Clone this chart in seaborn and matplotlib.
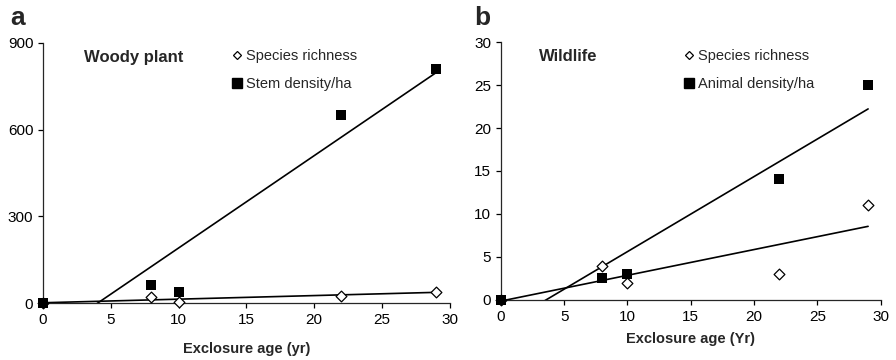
import numpy as np
import matplotlib
matplotlib.use("Agg")
import matplotlib.pyplot as plt
from matplotlib.lines import Line2D
import seaborn as sns

# --- DATA ---
age = [0, 8, 10, 22, 29]
woody_richness = [0, 22, 5, 25, 40]
woody_stems = [0, 62, 38, 650, 810]
wild_richness = [0, 4, 2, 3, 11]
wild_density = [0, 2.6, 3, 14.1, 25]

# --- STYLE ---
sns.set_style("ticks")
plt.rcParams['font.family'] = ['Liberation Sans', 'DejaVu Sans']
plt.rcParams['xtick.major.size'] = 3.5
plt.rcParams['ytick.major.size'] = 3.5
plt.rcParams['axes.linewidth'] = 0.9

fig = plt.figure(figsize=(8.96, 3.6), dpi=100)
ax1 = fig.add_axes([0.048, 0.158, 0.454, 0.723])
ax2 = fig.add_axes([0.559, 0.167, 0.424, 0.716])

line_kw = dict(color='black', lw=1.2)
dia_kw = dict(s=30, facecolor='white', edgecolor='black', linewidths=0.9,
              alpha=1, zorder=3, clip_on=False)
sq_kw = dict(s=62, color='black', linewidths=0, alpha=1, zorder=4, clip_on=False)


def panel(ax, y_rich, y_dens, ymax, ystep, title, dens_label, xlabel,
          leg_x, lpad):
    sns.regplot(x=age, y=y_rich, ax=ax, ci=None, truncate=True, marker='D',
                scatter_kws=dia_kw, line_kws=line_kw)
    sns.regplot(x=age, y=y_dens, ax=ax, ci=None, truncate=True, marker='s',
                scatter_kws=sq_kw, line_kws=line_kw)
    ax.set_xlim(0, 30)
    ax.set_ylim(0, ymax)
    ax.set_xticks(range(0, 31, 5))
    ax.set_yticks(np.arange(0, ymax + 1, ystep))
    ax.tick_params(labelsize=11, colors='black', width=0.9)
    ax.set_xlabel(xlabel, fontsize=10.5, weight='bold', labelpad=lpad)
    ax.set_ylabel('')
    sns.despine(ax=ax)
    ax.text(0.1, 0.945, title, transform=ax.transAxes, fontsize=12,
            weight='bold', va='center')
    handles = [
        Line2D([], [], marker='D', ls='', ms=4.5, mfc='white', mec='black', mew=0.9),
        Line2D([], [], marker='s', ls='', ms=7, color='black'),
    ]
    ax.legend(handles, ['Species richness', dens_label], loc='upper left',
              bbox_to_anchor=(leg_x, 1.025), frameon=False, fontsize=10.5,
              handlelength=0.6, handletextpad=0.3, labelspacing=0.95)


panel(ax1, woody_richness, woody_stems, 900, 300, 'Woody plant',
      'Stem density/ha', 'Exclosure age (yr)', 0.435, 11)
panel(ax2, wild_richness, wild_density, 30, 5, 'Wildlife',
      'Animal density/ha', 'Exclosure age (Yr)', 0.45, 6)

fig.text(0.011, 0.931, 'a', fontsize=19, weight='bold', va='baseline')
fig.text(0.529, 0.931, 'b', fontsize=19, weight='bold', va='baseline')

fig.savefig("out.png", dpi=100)
